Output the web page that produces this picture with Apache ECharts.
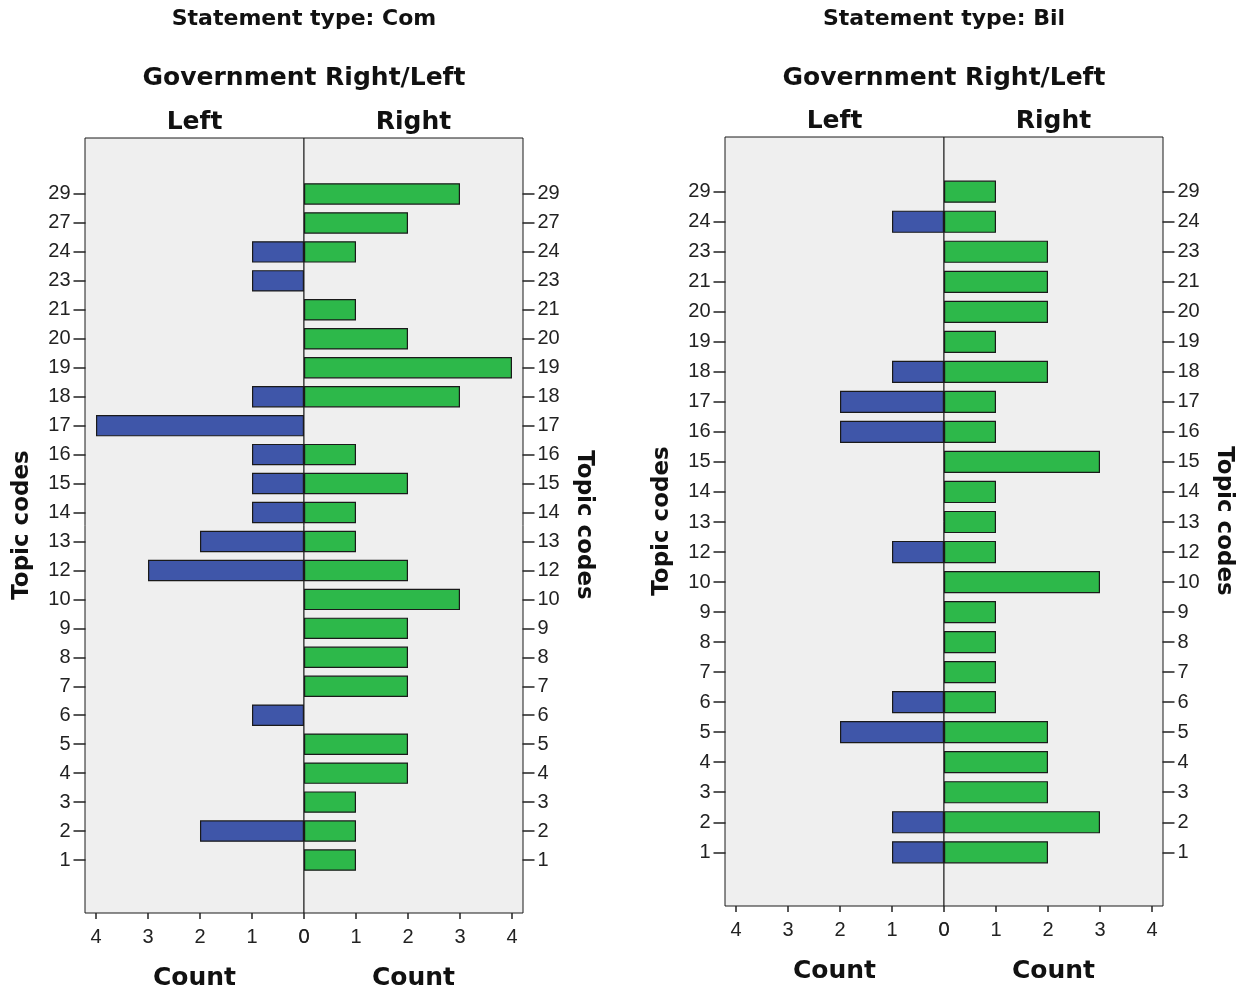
<!DOCTYPE html>
<html>
<head>
<meta charset="utf-8">
<script src="https://cdn.jsdelivr.net/npm/echarts@6/dist/echarts.min.js"></script>
<style>
html,body{margin:0;padding:0;background:#fff;}
#chart{width:1250px;height:992px;}
</style>
</head>
<body>
<div id="chart"></div>
<script>
// ---------- DATA ----------
// Panel 1: Statement type: Com (categories bottom -> top)
var comCategories = ['1','2','3','4','5','6','7','8','9','10','12','13','14','15','16','17','18','19','20','21','23','24','27','29'];
var comLeft  = [0,2,0,0,0,1,0,0,0,0,3,2,1,1,1,4,1,0,0,0,1,1,0,0];
var comRight = [1,1,1,2,2,0,2,2,2,3,2,1,1,2,1,0,3,4,2,1,0,1,2,3];

// Panel 2: Statement type: Bil
var bilCategories = ['1','2','3','4','5','6','7','8','9','10','12','13','14','15','16','17','18','19','20','21','23','24','29'];
var bilLeft  = [1,1,0,0,2,1,0,0,0,0,1,0,0,0,2,2,1,0,0,0,0,1,0];
var bilRight = [2,3,2,2,2,1,1,1,1,3,1,1,1,3,1,1,2,1,2,2,2,1,1];

var countTicks = [0,1,2,3,4];
var panelTitles = ['Statement type: Com','Statement type: Bil'];
var groupTitle = 'Government Right/Left';
var sideNames = ['Left','Right'];
var xName = 'Count';
var yName = 'Topic codes';

// ---------- LAYOUT ----------
var BLUE = '#3f56a9', GREEN = '#2db84a';
var numFont = 'Liberation Sans, Arial, sans-serif';
var boldFont = 'DejaVu Sans, Verdana, sans-serif';

var panels = [
  {cats: comCategories, left: comLeft, right: comRight, title: panelTitles[0],
   dx: 0, boxTop: 138, boxBottom: 913, innerTop: 179.5, innerBottom: 874.5,
   titleY: 19, groupY: 78, sideY: 122, countY: 978, topicY: 525},
  {cats: bilCategories, left: bilLeft, right: bilRight, title: panelTitles[1],
   dx: 640, boxTop: 137, boxBottom: 906, innerTop: 176.7, innerBottom: 867.3,
   titleY: 19, groupY: 78, sideY: 121, countY: 971, topicY: 521}
];

var grids = [], xAxes = [], yAxes = [], series = [], graphics = [];

function nz(arr){ return arr.map(function(v){ return v === 0 ? null : v; }); }

panels.forEach(function(p, pi){
  var boxL = 85 + p.dx, center = 304 + p.dx, boxR = 523 + p.dx;
  var innerL = 96 + p.dx, innerR = 512 + p.dx;
  var gBase = grids.length;
  // frame grids (background + border)
  grids.push({left: boxL, top: p.boxTop, width: center - boxL, height: p.boxBottom - p.boxTop,
    show: true, backgroundColor: '#efefef', borderColor: '#1a1a1a', borderWidth: 1, z: 0});
  grids.push({left: center, top: p.boxTop, width: boxR - center, height: p.boxBottom - p.boxTop,
    show: true, backgroundColor: '#efefef', borderColor: '#1a1a1a', borderWidth: 1, z: 0});
  // inner grids for the bars
  var ih = p.innerBottom - p.innerTop;
  grids.push({left: innerL, top: p.innerTop, width: center - innerL, height: ih});
  grids.push({left: center, top: p.innerTop, width: innerR - center, height: ih});

  var xOff = p.boxBottom - p.innerBottom;
  var commonX = {
    type: 'value', min: 0, max: 4, interval: 1, position: 'bottom', offset: xOff,
    axisLine: {show: false, onZero: false}, splitLine: {show: false},
    axisTick: {show: true, length: 6, lineStyle: {color: '#222', width: 1.5}},
    axisLabel: {show: true, margin: 14, fontSize: 20, fontFamily: numFont, color: '#222'}
  };
  var xl = Object.assign({}, commonX, {gridIndex: gBase + 2, inverse: true});
  var xr = Object.assign({}, commonX, {gridIndex: gBase + 3});
  var xiL = xAxes.length; xAxes.push(xl);
  var xiR = xAxes.length; xAxes.push(xr);

  var commonY = {
    type: 'category', data: p.cats, offset: innerL - boxL - 0.5,
    axisLine: {show: false, onZero: false}, splitLine: {show: false},
    axisTick: {show: true, alignWithLabel: true, length: 12, lineStyle: {color: '#222', width: 1.5}},
    axisLabel: {show: true, margin: 15, fontSize: 20, fontFamily: numFont, color: '#222'}
  };
  var yl = Object.assign({}, commonY, {gridIndex: gBase + 2, position: 'left'});
  var yr = Object.assign({}, commonY, {gridIndex: gBase + 3, position: 'right'});
  var yiL = yAxes.length; yAxes.push(yl);
  var yiR = yAxes.length; yAxes.push(yr);

  var barStyle = {borderColor: '#1a1a1a', borderWidth: 1.2};
  series.push({type: 'bar', name: sideNames[0], xAxisIndex: xiL, yAxisIndex: yiL,
    data: nz(p.left), barWidth: '74%', itemStyle: Object.assign({color: BLUE}, barStyle), z: 3});
  series.push({type: 'bar', name: sideNames[1], xAxisIndex: xiR, yAxisIndex: yiR,
    data: nz(p.right), barWidth: '74%', itemStyle: Object.assign({color: GREEN}, barStyle), z: 3});

  function txt(s, x, y, size, rot){
    graphics.push({type: 'text', x: x, y: y, rotation: rot || 0, z: 10,
      style: {text: s, x: 0, y: 0, textAlign: 'center', textVerticalAlign: 'middle',
        font: 'bold ' + size + 'px ' + boldFont, fill: '#111'}});
  }
  var leftMid = (boxL + center) / 2, rightMid = (center + boxR) / 2;
  txt(p.title, center, p.titleY, 22);
  txt(groupTitle, center, p.groupY, 25);
  txt(sideNames[0], leftMid, p.sideY, 25);
  txt(sideNames[1], rightMid, p.sideY, 25);
  txt(xName, leftMid, p.countY, 25);
  txt(xName, rightMid, p.countY, 25);
  txt(yName, 22 + p.dx, p.topicY, 23, Math.PI / 2);
  txt(yName, 584 + p.dx, p.topicY, 23, -Math.PI / 2);
});

var chart = echarts.init(document.getElementById('chart'), null, {renderer: 'canvas'});
chart.setOption({
  animation: false,
  backgroundColor: '#ffffff',
  grid: grids,
  xAxis: xAxes,
  yAxis: yAxes,
  series: series,
  graphic: graphics
});
</script>
</body>
</html>
